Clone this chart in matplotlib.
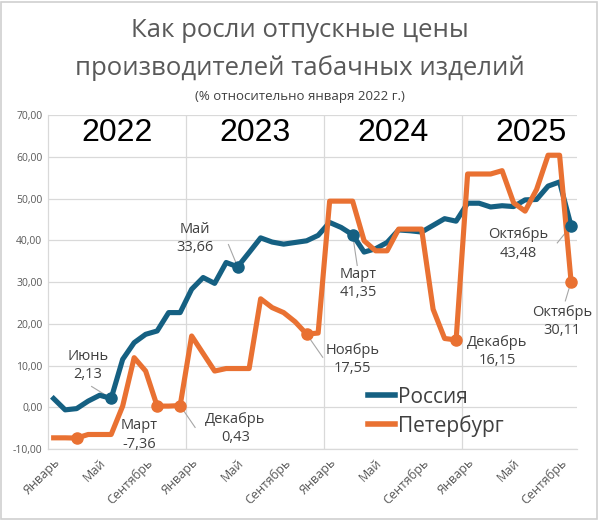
import numpy as np
import matplotlib
matplotlib.use("Agg")
import matplotlib.pyplot as plt
from matplotlib.patches import Rectangle

plt.rcParams["font.family"] = ["Open Sans", "DejaVu Sans"]

# monthly index values, Jan 2022 .. Oct 2025 (% vs Jan 2022)
russia = [2.1, -0.6, -0.3, 1.5, 2.9, 2.13, 11.5, 15.5, 17.5, 18.3, 22.7, 22.7,
          28.3, 31.1, 29.7, 34.7, 33.66, 37.1, 40.6, 39.6, 39.1, 39.5, 39.9, 41.2,
          44.3, 43.1, 41.35, 37.2, 38.0, 39.5, 42.5, 42.3, 42.0, 43.6, 45.2, 44.6,
          48.9, 48.9, 48.0, 48.3, 48.1, 49.7, 49.8, 53.0, 54.0, 43.48]
spb = [-7.3, -7.3, -7.36, -6.5, -6.5, -6.5, 0.3, 11.9, 8.7, 0.3, 0.3, 0.43,
       17.1, 12.9, 8.7, 9.3, 9.3, 9.3, 26.0, 23.9, 22.7, 20.5, 17.55, 17.8,
       49.4, 49.4, 49.4, 39.9, 37.5, 37.5, 42.7, 42.7, 42.7, 23.5, 16.5, 16.15,
       55.9, 55.9, 55.9, 56.7, 49.0, 47.0, 52.2, 60.4, 60.4, 30.11]
years = ["2022", "2023", "2024", "2025"]
month_labels = ["Январь", "Май", "Сентябрь"]

russia_marks = [5, 16, 26, 45]
spb_marks = [2, 9, 11, 22, 35, 45]

# (series, index, text, text x, text y, leader end or None)
notes = [
    ("ru", 5, "Июнь\n2,13", 3.0, 10.0, (3.3, 5.0)),
    ("ru", 16, "Май\n33,66", 12.3, 40.5, (15.2, 39.0)),
    ("ru", 26, "Март\n41,35", 26.5, 29.7, (26.4, 34.0)),
    ("ru", 45, "Октябрь\n43,48", 40.4, 39.1, (43.8, 39.4)),
    ("sp", 2, "Март\n-7,36", 7.4, -6.6, None),
    ("sp", 11, "Декабрь\n0,43", 15.8, -5.0, (12.3, -4.8)),
    ("sp", 22, "Ноябрь\n17,55", 26.0, 11.5, (23.4, 12.0)),
    ("sp", 35, "Декабрь\n16,15", 38.6, 13.4, None),
    ("sp", 45, "Октябрь\n30,11", 44.2, 20.6, (44.5, 25.5)),
]

BLUE = "#156082"
ORANGE = "#E97132"
GREY = "#404040"

fig = plt.figure(figsize=(5.99, 5.21), dpi=100)
fig.patches.append(Rectangle((0.002, 0.004), 0.995, 0.993, transform=fig.transFigure,
                             fill=False, ec="#d0d0d0", lw=1.2))
ax = fig.add_axes([0.080, 0.138, 0.883, 0.641])

x = np.arange(len(russia))
ax.plot(x, russia, color=BLUE, lw=3.7, solid_joinstyle="round", zorder=3)
ax.plot(x, spb, color=ORANGE, lw=3.7, solid_joinstyle="round", zorder=4)
ax.plot(russia_marks, [russia[i] for i in russia_marks], "o", color=BLUE, ms=8, zorder=5)
ax.plot(spb_marks, [spb[i] for i in spb_marks], "o", color=ORANGE, ms=8, zorder=5)

for ser, i, txt, tx, ty, end in notes:
    y = russia[i] if ser == "ru" else spb[i]
    ax.text(tx, ty, txt, ha="center", va="center", fontsize=10.5, color=GREY,
            linespacing=1.3, zorder=6)
    if end is not None:
        ax.plot([i, end[0]], [y, end[1]], color="#a6a6a6", lw=0.8, zorder=2)

ax.set_xlim(-0.5, len(russia) - 0.5)
ax.set_ylim(-10, 70)
ax.set_yticks(np.arange(-10, 71, 10))
ax.set_yticklabels([f"{v:.2f}".replace(".", ",") for v in np.arange(-10, 71, 10)])
ticks = np.arange(0, len(russia), 4)
ax.set_xticks(ticks)
ax.set_xticklabels([month_labels[(t // 4) % 3] for t in ticks], rotation=45,
                   ha="right", rotation_mode="anchor")
ax.tick_params(axis="y", length=0, labelsize=7.5, labelcolor="#595959", pad=4)
ax.tick_params(axis="x", length=0, labelsize=9, labelcolor="#595959", pad=5)

ax.grid(axis="y", color="#d9d9d9", lw=0.9)
for b in [11.5, 23.5, 35.5]:
    ax.axvline(b, color="#d9d9d9", lw=0.9, zorder=1)
for k, yr in enumerate(years):
    ax.text(12 * k + 5.5, 65.8, yr, ha="center", va="center", fontsize=23,
            color="black", family=["Liberation Sans"])
for s in ["top", "right"]:
    ax.spines[s].set_visible(False)
for s in ["left", "bottom"]:
    ax.spines[s].set_color("#d9d9d9")
    ax.spines[s].set_linewidth(0.9)
ax.set_axisbelow(True)

ax.plot([], [], color=BLUE, lw=4, label="Россия")
ax.plot([], [], color=ORANGE, lw=4, label="Петербург")
h, l = ax.get_legend_handles_labels()
ax.legend(h[-2:], l[-2:], loc="center left", bbox_to_anchor=(0.57, 0.112),
          frameon=False, fontsize=15, handlelength=1.3, handletextpad=0.15,
          labelspacing=0.35, labelcolor=GREY)

fig.text(0.5, 0.942, "Как росли отпускные цены", ha="center", va="center",
         fontsize=18.5, color="#595959")
fig.text(0.5, 0.870, "производителей табачных изделий", ha="center", va="center",
         fontsize=18.5, color="#595959")
fig.text(0.5, 0.814, "(% относительно января 2022 г.)", ha="center", va="center",
         fontsize=9.5, color="#404040")

fig.savefig("out.png", dpi=100)
